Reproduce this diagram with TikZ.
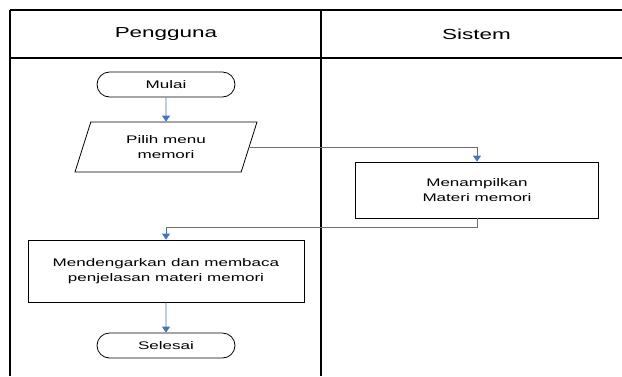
\documentclass[tikz,border=0pt]{standalone}
\usepackage{fontspec}
\setmainfont[FakeStretch=1.55]{Liberation Sans}
\usetikzlibrary{shapes.geometric,shapes.misc,arrows.meta,calc}
\definecolor{flowblue}{HTML}{4472C4}
\tikzset{
  lane/.style={line width=1.6pt, black},
  lanehead/.style={font=\fontsize{14.5}{16}\selectfont, inner sep=0pt},
  terminal/.style={draw, line width=0.8pt, rounded rectangle, minimum width=138pt,
    minimum height=25pt, inner sep=0pt, font=\fontsize{11}{14.5}\selectfont},
  iobox/.style={draw, line width=0.8pt, trapezium, trapezium left angle=55,
    trapezium right angle=125, trapezium stretches body, minimum width=182pt,
    minimum height=50pt, inner sep=0pt, align=center, font=\fontsize{11}{14.5}\selectfont},
  process/.style={draw, line width=0.8pt, rectangle, inner sep=0pt, align=center,
    font=\fontsize{11}{14.5}\selectfont},
  flow/.style={draw=flowblue, line width=0.9pt, -{Triangle[width=8pt,length=6pt]}, fill=none}
}
\begin{document}
\begin{tikzpicture}[x=1pt,y=-1pt]
  \useasboundingbox (0,0) rectangle (622,376);

  % swimlane frame
  \draw[lane] (10,10) -- (622,10);
  \draw[lane] (10,58) -- (622,58);
  \draw[lane] (10,10) -- (10,376);
  \draw[lane] (321,10) -- (321,376);
  \node[lanehead] (hUser) at (166,34) {Pengguna};
  \node[lanehead] (hSys) at (476.5,34) {Sistem};

  % flowchart steps
  \node[terminal] (start) at (166,84.5) {Mulai};
  \node[iobox] (pick) at (166,147) {Pilih menu\\memori};
  \node[process, minimum width=243pt, minimum height=56pt] (show) at (477,190) {Menampilkan\\Materi memori};
  \node[process, minimum width=276pt, minimum height=62pt] (read) at (166,271) {Mendengarkan dan membaca\\penjelasan materi memori};
  \node[terminal] (finish) at (166,345.5) {Selesai};

  % midpoint of the slanted right side of the input box
  \coordinate (pickR) at ($(pick.bottom right corner)!0.5!(pick.top right corner)$);

  % connectors
  \draw[flow] (start) -- (pick);
  \draw[flow] (pickR) -| (show.north);
  \draw[flow] (show.south) -- ++(0,9) -| (read.north);
  \draw[flow] (read) -- (finish);
\end{tikzpicture}
\end{document}
